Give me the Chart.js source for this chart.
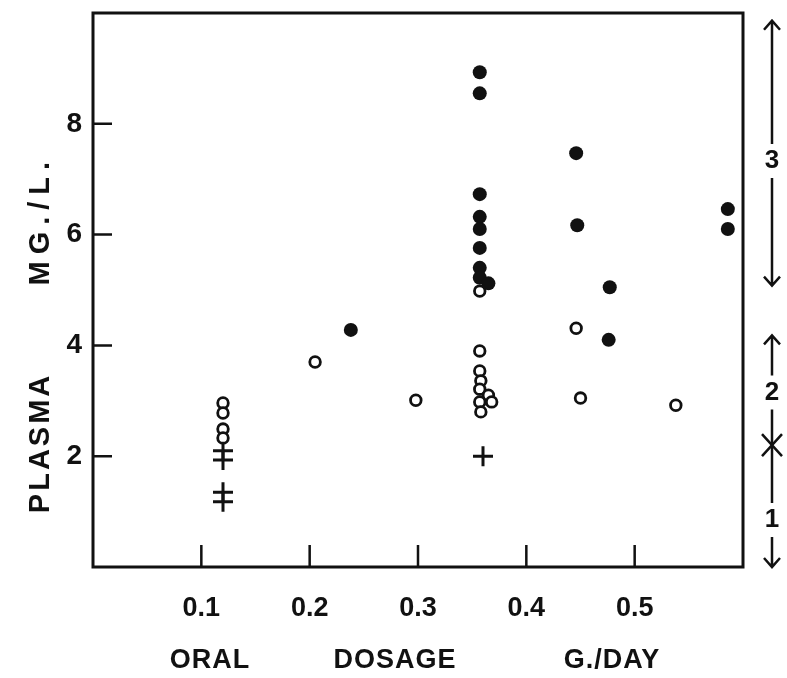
<!DOCTYPE html>
<html>
<head>
<meta charset="utf-8">
<script src="https://cdn.jsdelivr.net/npm/chart.js@4.4.0/dist/chart.umd.min.js"></script>
<style>
  html, body { margin: 0; padding: 0; background: #fff; }
</style>
</head>
<body>
<canvas id="chart" width="787" height="678"></canvas>
<script>
// plasma level (mg/L) vs oral dosage (g/day)
const filledDose  = [0.238, 0.357, 0.357, 0.357, 0.357, 0.357, 0.357, 0.357, 0.357, 0.365, 0.446, 0.447, 0.477, 0.476, 0.586, 0.586];
const filledLevel = [4.28, 8.93, 8.55, 6.73, 6.32, 6.10, 5.76, 5.40, 5.22, 5.12, 7.47, 6.17, 5.05, 4.10, 6.46, 6.10];

const openDose  = [0.12, 0.12, 0.12, 0.12, 0.205, 0.298, 0.357, 0.357, 0.357, 0.358, 0.357, 0.365, 0.357, 0.368, 0.358, 0.446, 0.45, 0.538];
const openLevel = [2.96, 2.78, 2.49, 2.33, 3.70, 3.01, 4.98, 3.90, 3.54, 3.36, 3.21, 3.10, 2.98, 2.98, 2.80, 4.31, 3.05, 2.92];

const crossDose  = [0.12, 0.12, 0.12, 0.12, 0.36];
const crossLevel = [2.10, 1.93, 1.35, 1.18, 2.00];

const xTicks = [0.1, 0.2, 0.3, 0.4, 0.5];
const yTicks = [2, 4, 6, 8];

// bracket ranges drawn right of the frame
const rangeNames   = ['3', '2', '1'];
const rangeTop     = [9.86, 4.18, 2.2];
const rangeBottom  = [5.08, 2.2, 0];
const rangeLabelAt = [7.33, 3.15, 0.85];

const ink = '#111';
const font = 'Liberation Sans';

function pts(xs, ys) {
  return xs.map((x, i) => ({ x: x, y: ys[i] }));
}

const frame = {
  id: 'frame',
  beforeDatasetsDraw(chart) {
    const ctx = chart.ctx, a = chart.chartArea;
    const xs = chart.scales.x, ys = chart.scales.y;
    ctx.save();
    ctx.strokeStyle = ink;
    ctx.lineWidth = 3;
    ctx.strokeRect(a.left, a.top, a.right - a.left, a.bottom - a.top);
    ctx.lineWidth = 2.5;
    ctx.beginPath();
    xTicks.forEach(v => {
      const px = xs.getPixelForValue(v);
      ctx.moveTo(px, a.bottom);
      ctx.lineTo(px, a.bottom - 22);
    });
    yTicks.forEach(v => {
      const py = ys.getPixelForValue(v);
      ctx.moveTo(a.left, py);
      ctx.lineTo(a.left + 19, py);
    });
    ctx.stroke();
    ctx.restore();
  },
  afterDraw(chart) {
    const ctx = chart.ctx, a = chart.chartArea;
    const ys = chart.scales.y;
    ctx.save();
    ctx.fillStyle = ink;
    ctx.strokeStyle = ink;
    ctx.textAlign = 'center';
    ctx.textBaseline = 'middle';

    // y title, rotated
    ctx.font = 'bold 29px "' + font + '"';
    ctx.letterSpacing = '3px';
    ctx.save();
    ctx.translate(41, ys.getPixelForValue(2.24));
    ctx.rotate(-Math.PI / 2);
    ctx.fillText('PLASMA', 0, 0);
    ctx.restore();
    ctx.letterSpacing = '7px';
    ctx.save();
    ctx.translate(41, ys.getPixelForValue(6.26));
    ctx.rotate(-Math.PI / 2);
    ctx.fillText('MG./L.', 0, 0);
    ctx.restore();

    // x title
    ctx.letterSpacing = '1px';
    ctx.font = 'bold 27px "' + font + '"';
    ctx.fillText('ORAL', 210, 661);
    ctx.fillText('DOSAGE', 395, 661);
    ctx.fillText('G./DAY', 612, 661);
    ctx.letterSpacing = '0px';

    // ranges on the right
    const cx = a.right + 29;
    ctx.lineWidth = 2.5;
    ctx.font = 'bold 26px "' + font + '"';
    rangeNames.forEach((name, i) => {
      const top = ys.getPixelForValue(rangeTop[i]);
      const bot = ys.getPixelForValue(rangeBottom[i]);
      const mid = ys.getPixelForValue(rangeLabelAt[i]);
      ctx.beginPath();
      ctx.moveTo(cx, top); ctx.lineTo(cx, mid - 17);
      ctx.moveTo(cx, mid + 17); ctx.lineTo(cx, bot);
      if (name !== '1') {
        ctx.moveTo(cx - 8, top + 9); ctx.lineTo(cx, top); ctx.lineTo(cx + 8, top + 9);
      }
      if (name !== '2') {
        ctx.moveTo(cx - 8, bot - 9); ctx.lineTo(cx, bot); ctx.lineTo(cx + 8, bot - 9);
      }
      ctx.stroke();
      ctx.fillText(name, cx, mid);
    });
    const xm = ys.getPixelForValue(rangeBottom[1]);
    ctx.beginPath();
    ctx.moveTo(cx - 10, xm - 11); ctx.lineTo(cx + 10, xm + 11);
    ctx.moveTo(cx + 10, xm - 11); ctx.lineTo(cx - 10, xm + 11);
    ctx.stroke();
    ctx.restore();
  }
};

new Chart(document.getElementById('chart'), {
  type: 'scatter',
  data: {
    datasets: [
      {
        data: pts(openDose, openLevel),
        pointStyle: 'circle',
        pointRadius: 5.3,
        pointBackgroundColor: '#fff',
        pointBorderColor: ink,
        pointBorderWidth: 2.8
      },
      {
        data: pts(filledDose, filledLevel),
        pointStyle: 'circle',
        pointRadius: 7,
        pointBackgroundColor: ink,
        pointBorderColor: ink,
        pointBorderWidth: 0
      },
      {
        data: pts(crossDose, crossLevel),
        pointStyle: 'cross',
        pointRadius: 10,
        pointBorderColor: ink,
        pointBorderWidth: 3
      }
    ]
  },
  options: {
    responsive: false,
    animation: false,
    layout: { padding: { top: 13, right: 44, left: 0, bottom: 0 } },
    plugins: {
      legend: { display: false },
      tooltip: { enabled: false }
    },
    scales: {
      x: {
        type: 'linear',
        min: 0,
        max: 0.6,
        afterFit: s => { s.height = 111; s.paddingLeft = 0; s.paddingRight = 0; },
        afterBuildTicks: s => { s.ticks = xTicks.map(v => ({ value: v })); },
        grid: { display: false, drawTicks: false },
        border: { display: false },
        ticks: {
          padding: 25,
          color: ink,
          font: { family: font, size: 27, weight: 'bold' },
          callback: v => v.toFixed(1)
        }
      },
      y: {
        min: 0,
        max: 10,
        afterFit: s => { s.width = 93; s.paddingTop = 0; s.paddingBottom = 0; },
        afterBuildTicks: s => { s.ticks = yTicks.map(v => ({ value: v })); },
        grid: { display: false, drawTicks: false },
        border: { display: false },
        ticks: {
          padding: 11,
          color: ink,
          font: { family: font, size: 28, weight: 'bold' }
        }
      }
    }
  },
  plugins: [frame]
});
</script>
</body>
</html>
